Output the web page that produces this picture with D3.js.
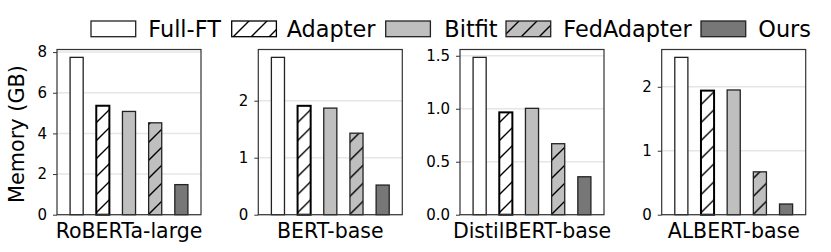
<!DOCTYPE html>
<html><head><meta charset="utf-8">
<script src="https://cdn.jsdelivr.net/npm/d3@7"></script>
<style>body{margin:0;background:#fff}svg{display:block;font-family:"DejaVu Sans",sans-serif}</style>
</head><body><svg id="c" width="831" height="252"></svg>
<script>
const methods = ["Full-FT","Adapter","Bitfit","FedAdapter","Ours"];
const models = ["RoBERTa-large","BERT-base","DistilBERT-base","ALBERT-base"];
const memRoberta = [7.74,5.36,5.08,4.52,1.48];
const memBert = [2.76,1.91,1.87,1.43,0.52];
const memDistil = [1.485,0.966,1.004,0.67,0.358];
const memAlbert = [2.46,1.94,1.95,0.67,0.167];
const yTicks = [[0,2,4,6,8],[0,1,2],[0.0,0.5,1.0,1.5],[0,1,2]];
const yFmt = [d3.format("d"),d3.format("d"),d3.format(".1f"),d3.format("d")];
const allData = [memRoberta,memBert,memDistil,memAlbert];

const fills = ["#ffffff","#ffffff","#bfbfbf","#bfbfbf","#777777"];
const hatched = [false,true,false,true,false];
const edges = ["#222","#000","#222","#222","#222"];
const edgeW = [1.3,2,1.3,1.3,1.3];

const svg = d3.select("#c");
const defs = svg.append("defs");
[["hw","#ffffff"],["hg","#bfbfbf"]].forEach(([id,bg])=>{
  const p = defs.append("pattern").attr("id",id).attr("patternUnits","userSpaceOnUse")
    .attr("width",18).attr("height",18);
  p.append("rect").attr("width",18).attr("height",18).attr("fill",bg);
  p.append("path").attr("d","M-4.5,4.5L4.5,-4.5M0,18L18,0M13.5,22.5L22.5,13.5")
    .attr("stroke","#000").attr("stroke-width",1.4);
});
const fillFor = i => hatched[i] ? (fills[i]==="#ffffff"?"url(#hw)":"url(#hg)") : fills[i];

const lefts = [57,258.3,460,661.7];
const W = 144, plotTop = 49.5, plotBottom = 214.7;

allData.forEach((vals,k)=>{
  const g = svg.append("g").attr("transform",`translate(${lefts[k]},0)`);
  const x = d3.scaleLinear().domain([-0.75,4.75]).range([0,W]);
  const y = d3.scaleLinear().domain([0,d3.max(vals)*1.05]).range([plotBottom,plotTop]);
  g.selectAll("line.grid").data(yTicks[k]).join("line")
    .attr("x1",0).attr("x2",W).attr("y1",d=>y(d)).attr("y2",d=>y(d))
    .attr("stroke","#e6e6e6").attr("stroke-width",1.5);
  g.selectAll("rect.bar").data(vals).join("rect")
    .attr("x",(d,i)=>x(i-0.25)).attr("width",x(0.5)-x(0))
    .attr("y",d=>y(d)).attr("height",d=>y(0)-y(d))
    .attr("fill",(d,i)=>fillFor(i)).attr("stroke",(d,i)=>edges[i]).attr("stroke-width",(d,i)=>edgeW[i]);
  g.append("rect").attr("x",0).attr("y",plotTop).attr("width",W).attr("height",plotBottom-plotTop)
    .attr("fill","none").attr("stroke","#333").attr("stroke-width",1.2);
  const ax = d3.axisLeft(y).tickValues(yTicks[k]).tickFormat(yFmt[k]).tickSize(4).tickPadding(6);
  const ga = g.append("g").call(ax);
  ga.select(".domain").remove();
  ga.selectAll("text").attr("font-size",15).attr("fill","#000").attr("font-family","DejaVu Sans");
  ga.selectAll("line").attr("stroke","#333").attr("stroke-width",1);
  g.append("text").attr("x",W/2).attr("y",237.8).attr("text-anchor","middle")
    .attr("font-size",20.5).text(models[k]);
});

svg.append("text").attr("transform","translate(24,134) rotate(-90)").attr("text-anchor","middle")
  .attr("font-size",20.8).text("Memory (GB)");

const patchX = [91,231.7,385.7,506,701];
const textX = [148.3,286.7,444.3,563.3,758.3];
methods.forEach((m,i)=>{
  svg.append("rect").attr("x",patchX[i]).attr("y",21).attr("width",44.7).attr("height",15.7)
    .attr("fill",fillFor(i)).attr("stroke",edges[i]).attr("stroke-width",1.3);
  svg.append("text").attr("x",textX[i]).attr("y",36.5).attr("font-size",22.4).text(m);
});
</script></body></html>
